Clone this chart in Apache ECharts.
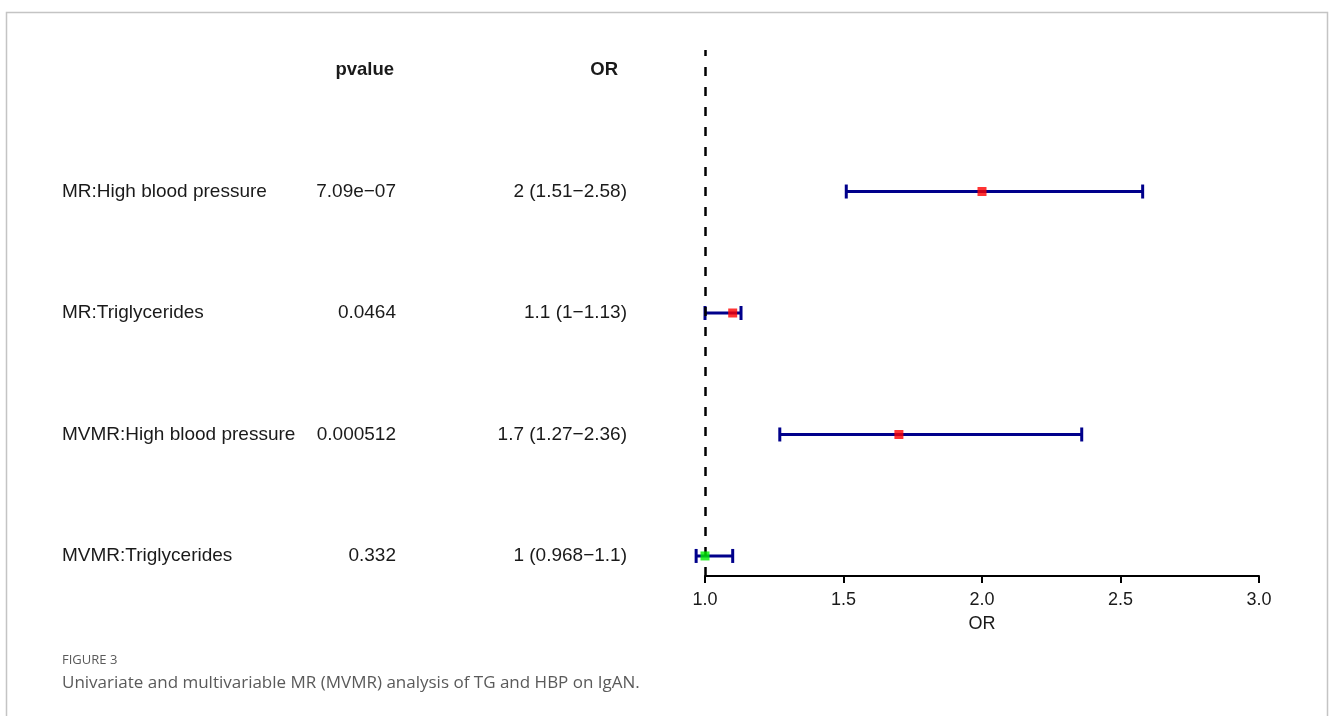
<!DOCTYPE html>
<html><head><meta charset="utf-8">
<script src="https://cdn.jsdelivr.net/npm/echarts@6/dist/echarts.min.js"></script>
<style>html,body{margin:0;padding:0;background:#fff}#c{width:1330px;height:716px}</style>
</head><body><div id="c"></div><script>
// ---- data ----
const rowLabels = ['MR:High blood pressure', 'MR:Triglycerides', 'MVMR:High blood pressure', 'MVMR:Triglycerides'];
const pvalues = ['7.09e\u221207', '0.0464', '0.000512', '0.332'];
const orText = ['2 (1.51\u22122.58)', '1.1 (1\u22121.13)', '1.7 (1.27\u22122.36)', '1 (0.968\u22121.1)'];
const orEst = [2.0, 1.1, 1.7, 1.0];
const ciLow = [1.51, 1.0, 1.27, 0.968];
const ciHigh = [2.58, 1.13, 2.36, 1.1];
const pointColors = ['#ff0000', '#ff0000', '#ff0000', '#00ee00'];
const xTicks = [1.0, 1.5, 2.0, 2.5, 3.0];
const headerP = 'pvalue';
const headerOR = 'OR';
const axisName = 'OR';
const refValue = 1;
const captionTitle = 'FIGURE 3';
const captionText = 'Univariate and multivariable MR (MVMR) analysis of TG and HBP on IgAN.';

// row positions on hidden y axis (header at 5, rows 4..1)
const rowY = rowLabels.map((_, i) => 4 - i);
const headerY = 5;

const chart = echarts.init(document.getElementById('c'), null, {renderer: 'canvas'});
const FONT = '"Liberation Sans", Arial, sans-serif';
const NAVY = '#00008b';

const ciData = rowLabels.map((_, i) => [ciLow[i], ciHigh[i], rowY[i]]);
const ptData = rowLabels.map((_, i) => ({value: [orEst[i], rowY[i]], itemStyle: {color: pointColors[i]}}));

chart.setOption({
  backgroundColor: '#ffffff',
  animation: false,
  grid: {left: 705, right: 71, top: 50, bottom: 140},
  xAxis: {
    type: 'value', min: xTicks[0], max: xTicks[xTicks.length - 1], interval: 0.5,
    name: axisName, nameLocation: 'middle', nameGap: 39,
    nameTextStyle: {fontFamily: FONT, fontSize: 18, color: '#1a1a1a'},
    axisLine: {show: true, onZero: false, lineStyle: {color: '#000', width: 2}},
    axisTick: {show: true, length: 7, lineStyle: {color: '#000', width: 2}},
    axisLabel: {fontFamily: FONT, fontSize: 18, color: '#1a1a1a', margin: 15, formatter: v => v.toFixed(1)},
    splitLine: {show: false}
  },
  yAxis: {type: 'value', min: 0.835, max: 5.165, show: false},
  series: [
    {
      type: 'custom', z: 2, clip: false,
      data: ciData,
      renderItem: function (params, api) {
        const p1 = api.coord([api.value(0), api.value(2)]);
        const p2 = api.coord([api.value(1), api.value(2)]);
        const st = {stroke: NAVY, lineWidth: 3, lineCap: 'butt'};
        const h = 7;
        return {type: 'group', children: [
          {type: 'line', shape: {x1: p1[0], y1: p1[1], x2: p2[0], y2: p2[1]}, style: st},
          {type: 'line', shape: {x1: p1[0], y1: p1[1] - h, x2: p1[0], y2: p1[1] + h}, style: st},
          {type: 'line', shape: {x1: p2[0], y1: p2[1] - h, x2: p2[0], y2: p2[1] + h}, style: st}
        ]};
      },
      markLine: {
        silent: true, symbol: ['none', 'none'], label: {show: false},
        lineStyle: {color: '#000', width: 2.5, type: [9, 11]},
        data: [{xAxis: refValue}]
      }
    },
    {
      type: 'scatter', z: 5, symbol: 'rect', symbolSize: 9,
      data: ptData
    }
  ]
});

function buildGraphics() {
  const els = [];
  const txt = (text, x, y, align, weight, size) => ({
    type: 'text', z: 10, style: {text: text, x: x, y: y, textAlign: align, textVerticalAlign: 'middle',
      fontFamily: FONT, fontSize: size || 19, fontWeight: weight || 'normal', fill: '#1a1a1a'}
  });
  const hy = chart.convertToPixel({yAxisIndex: 0}, headerY);
  els.push(txt(headerP, 394, hy, 'right', 'bold', 18.5));
  els.push(txt(headerOR, 618, hy, 'right', 'bold', 18.5));
  rowLabels.forEach((lab, i) => {
    const y = chart.convertToPixel({yAxisIndex: 0}, rowY[i]);
    els.push(txt(lab, 62, y, 'left'));
    els.push(txt(pvalues[i], 396, y, 'right'));
    els.push(txt(orText[i], 627, y, 'right'));
  });
  // frame
  els.push({type: 'rect', z: 1, shape: {x: 6.5, y: 12.5, width: 1321, height: 740},
    style: {fill: 'none', stroke: '#c4c4c4', lineWidth: 1.5}});
  // caption
  els.push({type: 'text', z: 10, style: {text: captionTitle, x: 62, y: 660, textVerticalAlign: 'middle',
    fontFamily: '"Open Sans", sans-serif', fontSize: 13, fill: '#5a5a5a'}});
  els.push({type: 'text', z: 10, style: {text: captionText, x: 62, y: 683, textVerticalAlign: 'middle',
    fontFamily: '"Open Sans", sans-serif', fontSize: 17, fill: '#5a5a5a'}});
  chart.setOption({graphic: {elements: els}});
}
buildGraphics();
</script></body></html>
